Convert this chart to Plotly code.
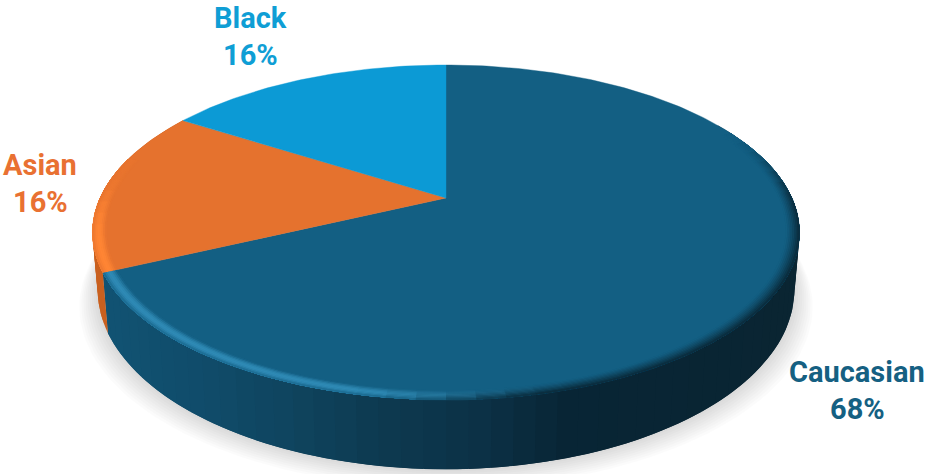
import math
import plotly.graph_objects as go

# Slices run clockwise from twelve o'clock
categories = ["Caucasian", "Asian", "Black"]
shares = [68, 16, 16]
top_colors = ["#135f83", "#e5722e", "#0c9ad5"]
label_colors = ["#156082", "#e97132", "#0f9ed5"]
wall_base = ["#0f4f6e", "#c9601f", "#0a7fb0"]
rim_light = ["#2f8ab5", "#ff8534", "#2db4ea"]
rim_dark = ["#0a2a3a", "#a04f1c", "#086a94"]

# Tilted-disc projection
CX, CY, RX, RY, K = 446.0, 198.0, 346.0, 160.4, 0.206
DEPTH, SHRINK = 55.0, 0.985


def project(theta, r=1.0):
    u, v = r * math.sin(theta), r * math.cos(theta)
    w = 1 + K * v
    return CX + RX * u / w, CY - RY * v / w


def project_floor(theta, grow=0.0):
    u, v = math.sin(theta), math.cos(theta)
    w = 1 + K * v
    x = CX + RX * u / w * SHRINK
    y = CY - RY * v / w + DEPTH / w
    return x + grow * u, y + grow


def hex_rgb(c):
    return tuple(int(c[i:i + 2], 16) for i in (1, 3, 5))


def mix(a, b, t):
    t = max(0.0, min(1.0, t))
    ra, rb = hex_rgb(a), hex_rgb(b)
    return "#%02x%02x%02x" % tuple(round(p + (q - p) * t) for p, q in zip(ra, rb))


def ramp(stops, x):
    if x <= stops[0][0]:
        return stops[0][1]
    for (x0, c0), (x1, c1) in zip(stops, stops[1:]):
        if x <= x1:
            return mix(c0, c1, (x - x0) / (x1 - x0))
    return stops[-1][1]


def smooth(a, b, x):
    t = max(0.0, min(1.0, (x - a) / (b - a)))
    return t * t * (3 - 2 * t)


def filled(xs, ys, color, width=0.0):
    return go.Scatter(x=xs, y=ys, mode="lines", fill="toself", fillcolor=color,
                      line=dict(color=color, width=width), hoverinfo="skip", showlegend=False)


def polygon(pts):
    return [round(p[0], 2) for p in pts] + [round(pts[0][0], 2)], \
           [round(p[1], 2) for p in pts] + [round(pts[0][1], 2)]


total = sum(shares)
edges = [0.0]
for s in shares:
    edges.append(edges[-1] + 2 * math.pi * s / total)

fig = go.Figure()

# Soft ground shadow below the disc
for i in range(9, 0, -1):
    pts = [project_floor(2 * math.pi * a / 180, grow=i * 2.1) for a in range(180)]
    xs, ys = polygon(pts)
    fig.add_trace(filled(xs, ys, "rgba(0,0,0,0.014)"))

# Outer wall: the first slice carries the dark horizontal gradient.
# Each strip overlaps the next so no seams open between them.
wall_stops = [(100, "#115373"), (200, "#104c6a"), (280, "#0f4560"), (380, "#0d3a50"),
              (480, "#0c3146"), (570, "#082535"), (800, "#0a2532")]
step = math.radians(3)
for idx in range(len(shares)):
    t = edges[idx]
    if idx == 0:
        t = math.radians(60)
    if idx == 2:
        continue
    while t < edges[idx + 1] - 1e-6:
        t2 = min(t + step, edges[idx + 1])
        t3 = min(t + 2 * step, edges[idx + 1])
        if idx == 0:
            col = ramp(wall_stops, project((t + t2) / 2)[0])
        else:
            col = wall_base[idx]
        n = 4
        arc = [t + (t3 - t) * j / n for j in range(n + 1)]
        pts = [project(a) for a in arc] + [project_floor(a) for a in reversed(arc)]
        xs, ys = polygon(pts)
        fig.add_trace(filled(xs, ys, col))
        t = t2
    if idx == 1:
        break

# Top faces
for idx in range(len(shares)):
    n = max(8, int(shares[idx] * 4))
    angles = [edges[idx] + (edges[idx + 1] - edges[idx]) * j / n for j in range(n + 1)]
    xs, ys = polygon([(CX, CY)] + [project(a) for a in angles])
    fig.add_trace(filled(xs, ys, top_colors[idx], width=0.4))

# Rounded bevel along the rim of each slice, drawn from the inner ring outward
rings = 8
inner = 0.962
for k in range(rings):
    s = (k + 0.5) / rings
    r0 = inner + (1 - inner) * k / rings
    for idx in range(len(shares)):
        t = edges[idx]
        while t < edges[idx + 1] - 1e-6:
            t2 = min(t + math.radians(4), edges[idx + 1])
            t3 = min(t + math.radians(8), edges[idx + 1])
            deg = math.degrees((t + t2) / 2)
            # Light falls on the near-left rim, shade on the near-right rim
            light = smooth(160, 195, deg) * (1 - smooth(255, 285, deg))
            shade = smooth(62, 95, deg) * (1 - smooth(165, 190, deg))
            if light > 0.02 or shade > 0.02:
                glow = light * math.sin(math.pi * min(1, s * 0.9)) ** 1.3
                col = mix(top_colors[idx], rim_light[idx], glow)
                col = mix(col, rim_dark[idx], shade * s ** 1.3)
                arc = [t + (t3 - t) * j / 4 for j in range(5)]
                pts = [project(a, r0) for a in arc] + [project(a, 1.0) for a in reversed(arc)]
                xs, ys = polygon(pts)
                fig.add_trace(filled(xs, ys, col))
            t = t2

# Two-line data labels
label_pos = {"Caucasian": (857, 372), "Asian": (40, 165), "Black": (250, 18)}
LINE_GAP = 37
for idx, name in enumerate(categories):
    x, y = label_pos[name]
    for j, text in enumerate([name, f"{shares[idx]}%"]):
        fig.add_annotation(x=x, y=y + j * LINE_GAP, text=f"<b>{text}</b>", showarrow=False,
                           xanchor="center", yanchor="middle",
                           font=dict(family="Roboto", size=29, color=label_colors[idx]))

fig.update_layout(
    width=925, height=474, margin=dict(l=0, r=0, t=0, b=0),
    paper_bgcolor="white", plot_bgcolor="white", showlegend=False,
    xaxis=dict(range=[0, 925], visible=False, fixedrange=True),
    yaxis=dict(range=[474, 0], visible=False, fixedrange=True),
)
fig.write_html("out.html", config={"displayModeBar": False})
